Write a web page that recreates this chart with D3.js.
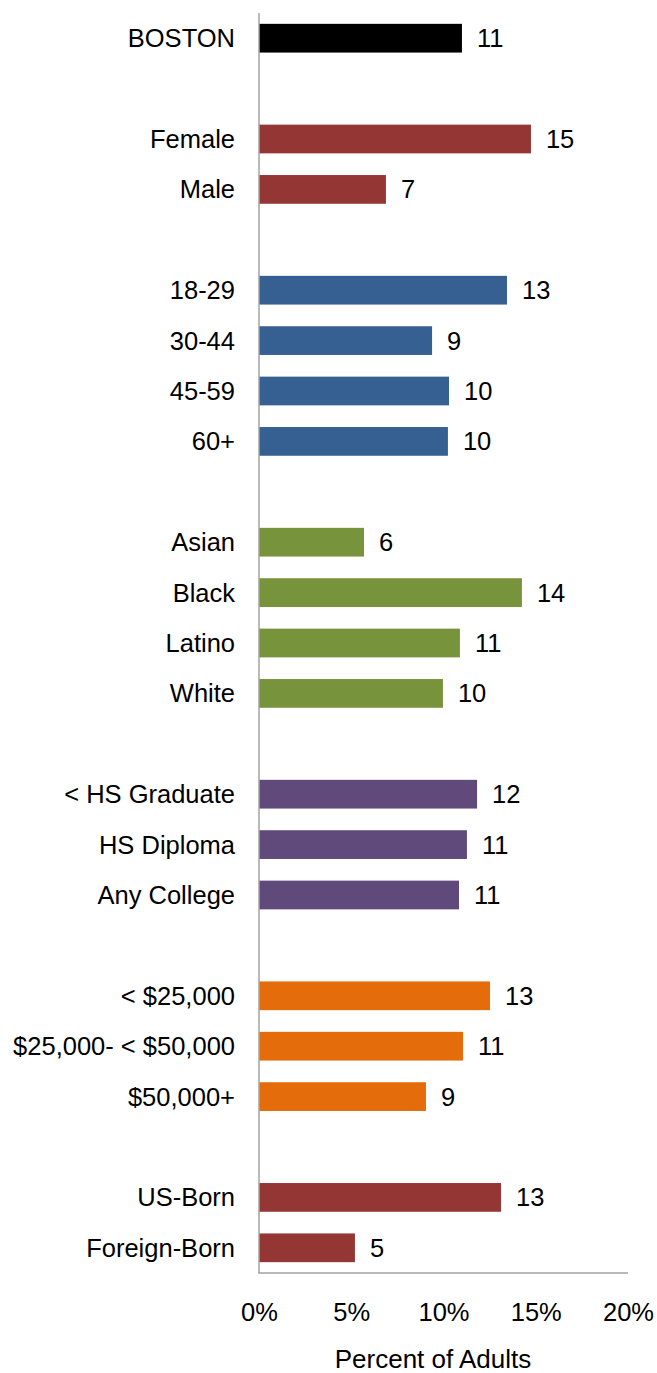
<!DOCTYPE html>
<html>
<head>
<meta charset="utf-8">
<script src="https://cdn.jsdelivr.net/npm/d3@7"></script>
<style>
  html, body { margin: 0; padding: 0; background: #fff; }
  svg { display: block; }
  text { font-family: "Liberation Sans", Arial, Helvetica, sans-serif; fill: #000; }
</style>
</head>
<body>
<svg id="chart" width="657" height="1373"></svg>
<script>
// ---- Data ----
const categories = [
  "BOSTON", "",
  "Female", "Male", " ",
  "18-29", "30-44", "45-59", "60+", "  ",
  "Asian", "Black", "Latino", "White", "   ",
  "< HS Graduate", "HS Diploma", "Any College", "    ",
  "< $25,000", "$25,000- < $50,000", "$50,000+", "     ",
  "US-Born", "Foreign-Born"
];
const values = [
  11.0, null,
  14.74, 6.88, null,
  13.44, 9.38, 10.30, 10.24, null,
  5.69, 14.25, 10.89, 9.97, null,
  11.82, 11.27, 10.84, null,
  12.52, 11.06, 9.05, null,
  13.12, 5.20
];
const groups = [
  "total", null,
  "gender", "gender", null,
  "age", "age", "age", "age", null,
  "race", "race", "race", "race", null,
  "edu", "edu", "edu", null,
  "income", "income", "income", null,
  "nativity", "nativity"
];
const groupColors = {
  total: "#000000",
  gender: "#943634",
  age: "#366092",
  race: "#77933C",
  edu: "#604A7B",
  income: "#E46C0A",
  nativity: "#943634"
};
const xTicks = [0, 5, 10, 15, 20];
const xTickLabels = ["0%", "5%", "10%", "15%", "20%"];
const axisTitle = "Percent of Adults";

// ---- Layout ----
const svg = d3.select("#chart");
const plotLeft = 259, plotRight = 628, plotTop = 13, plotBottom = 1273;
const fontSize = 25.5;

const x = d3.scaleLinear().domain([0, 20]).range([plotLeft, plotRight]);
const y = d3.scaleBand()
  .domain(categories)
  .range([plotTop, plotBottom])
  .paddingInner(0.43)
  .paddingOuter(0.215);

const rows = categories.map((c, i) => ({ cat: c, value: values[i], group: groups[i] }))
  .filter(d => d.value !== null);

// Bars
svg.append("g").selectAll("rect")
  .data(rows)
  .join("rect")
  .attr("x", x(0))
  .attr("y", d => y(d.cat))
  .attr("width", d => x(d.value) - x(0))
  .attr("height", y.bandwidth())
  .attr("fill", d => groupColors[d.group]);

// Category labels
svg.append("g").selectAll("text")
  .data(rows)
  .join("text")
  .attr("x", 235)
  .attr("y", d => y(d.cat) + y.bandwidth() / 2 + 9)
  .attr("text-anchor", "end")
  .style("font-size", fontSize + "px")
  .text(d => d.cat);

// Value labels
svg.append("g").selectAll("text")
  .data(rows)
  .join("text")
  .attr("x", d => x(d.value) + 15)
  .attr("y", d => y(d.cat) + y.bandwidth() / 2 + 9)
  .attr("text-anchor", "start")
  .style("font-size", fontSize + "px")
  .text(d => Math.round(d.value));

// Axes lines
const axisColor = "#a3a3a3";
svg.append("line")
  .attr("x1", x(0)).attr("x2", x(0))
  .attr("y1", plotTop).attr("y2", plotBottom)
  .attr("stroke", axisColor).attr("stroke-width", 1.5);
svg.append("line")
  .attr("x1", x(0) - 0.75).attr("x2", x(20))
  .attr("y1", plotBottom).attr("y2", plotBottom)
  .attr("stroke", axisColor).attr("stroke-width", 1.5);

// X tick labels via d3 axis
const xAxis = d3.axisBottom(x)
  .tickValues(xTicks)
  .tickFormat((d, i) => xTickLabels[i])
  .tickSize(0)
  .tickPadding(0);
const gx = svg.append("g").attr("transform", `translate(0, ${plotBottom})`).call(xAxis);
gx.select(".domain").remove();
gx.selectAll("text")
  .attr("y", 47.5)
  .attr("dy", null)
  .style("font-size", fontSize + "px")
  .style("font-family", '"Liberation Sans", Arial, Helvetica, sans-serif')
  .attr("fill", "#000");

// Axis title
svg.append("text")
  .attr("x", 433)
  .attr("y", 1368)
  .attr("text-anchor", "middle")
  .style("font-size", "26px")
  .text(axisTitle);
</script>
</body>
</html>
